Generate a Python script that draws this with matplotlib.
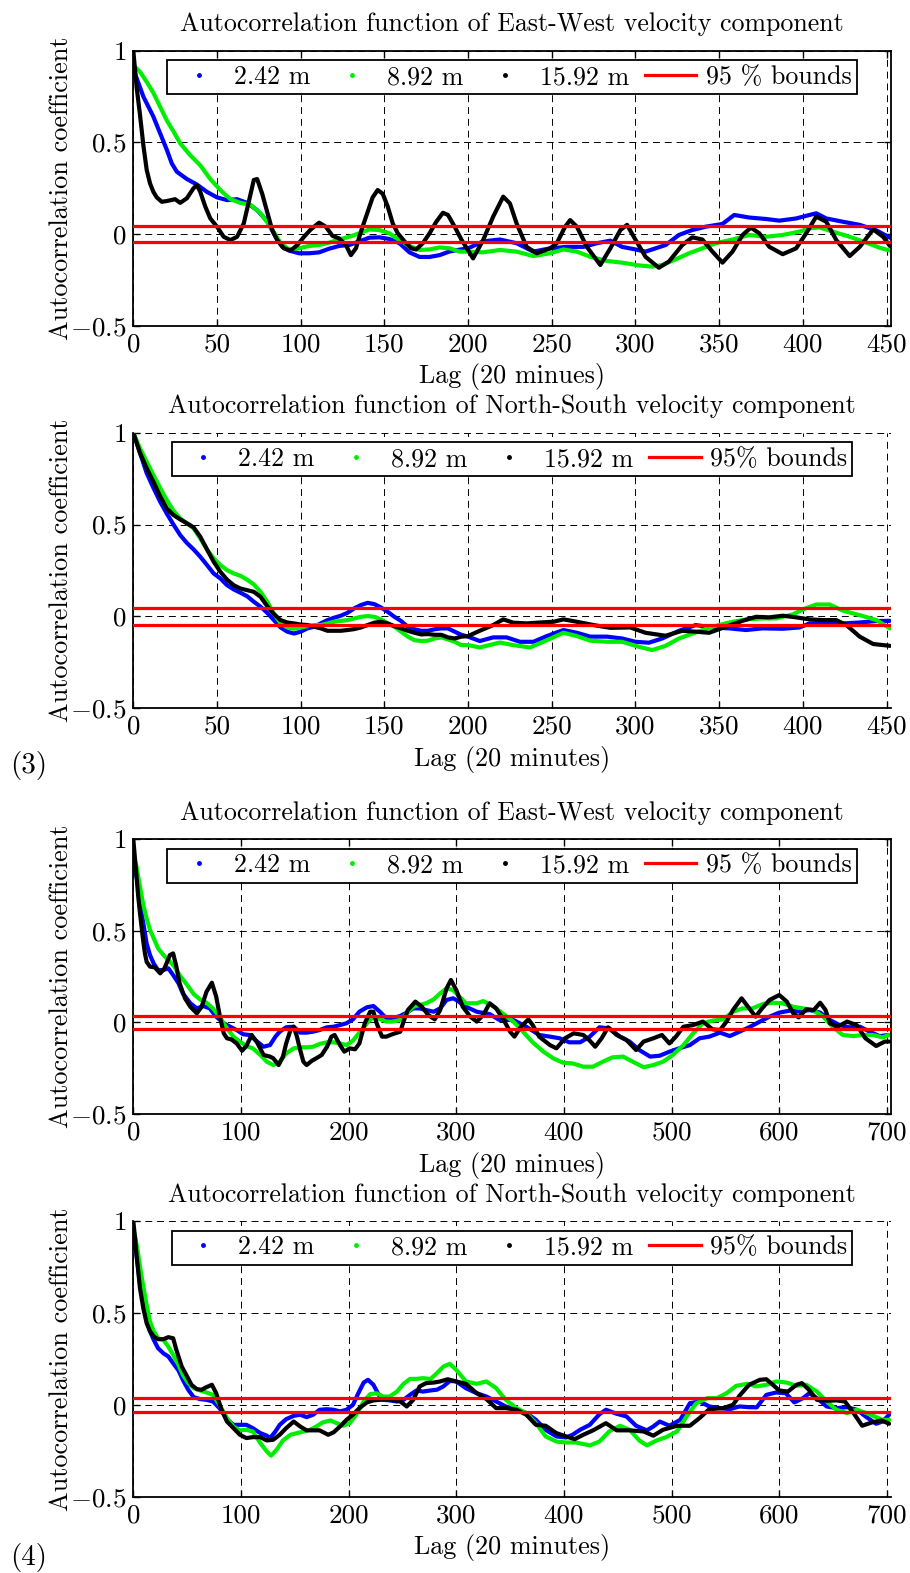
import matplotlib
matplotlib.use('Agg')
import matplotlib.pyplot as plt
from matplotlib.lines import Line2D

plt.rcParams['font.family'] = ['cmr10', 'DejaVu Serif']
plt.rcParams['mathtext.fontset'] = 'cm'
plt.rcParams['axes.formatter.use_mathtext'] = True
plt.rcParams['lines.scale_dashes'] = False

# ---------------- data (lag, autocorrelation) ----------------
depth_labels = ['2.42 m', '8.92 m', '15.92 m']
series_colors = ['#0000ff', '#00ee00', '#000000']

titles = ['Autocorrelation function of East-West velocity component',
          'Autocorrelation function of North-South velocity component',
          'Autocorrelation function of East-West velocity component',
          'Autocorrelation function of North-South velocity component']
xlabels = ['Lag (20 minues)', 'Lag (20 minutes)', 'Lag (20 minues)', 'Lag (20 minutes)']
bound_labels = ['95 % bounds', '95% bounds', '95 % bounds', '95% bounds']
bounds = [0.045, 0.047, 0.036, 0.037]
lag_max = [452.5, 452.5, 703.5, 703.5]
xtick_sets = [list(range(0, 451, 50)), list(range(0, 451, 50)),
              list(range(0, 701, 100)), list(range(0, 701, 100))]
ytick_values = [-0.5, 0, 0.5, 1]
ytick_labels = [r'$-0.5$', r'$0$', r'$0.5$', r'$1$']
panel_tags = ['', '(3)', '', '(4)']
boxed = [True, False, True, False]

p1_blue = [(0,.90),(6,.75),(12,.64),(16,.55),(20,.46),(23,.385),(26,.34),(32,.30),(38,.27),(44,.23),(50,.20),(56,.185),(62,.19),(68,.17),(74,.13),(80,.07),(85,-.015),(89,-.07),(93,-.09),(99,-.105),(105,-.105),(111,-.10),(117,-.08),(123,-.065),(129,-.06),(135,-.04),(141,-.02),(147,-.018),(153,-.027),(159,-.05),(165,-.10),(171,-.125),(177,-.125),(183,-.115),(189,-.095),(195,-.085),(200,-.078),(209,-.04),(219,-.03),(229,-.05),(239,-.096),(249,-.078),(259,-.07),(269,-.07),(277,-.05),(285,-.036),(292,-.07),(300,-.084),(306,-.096),(312,-.078),(318,-.06),(326,-.005),(334,.022),(342,.04),(352,.055),(359,.104),(368,.09),(378,.082),(386,.073),(396,.085),(404,.104),(408,.113),(414,.085),(424,.067),(434,.05),(444,.02),(452,-.02)]
p1_green = [(0,.92),(4,.885),(8,.83),(12,.77),(16,.695),(20,.62),(24,.56),(28,.495),(34,.43),(40,.375),(46,.30),(52,.24),(58,.19),(64,.17),(70,.16),(76,.113),(82,.04),(88,-.05),(93,-.084),(99,-.078),(105,-.065),(111,-.06),(117,-.047),(123,-.03),(129,-.015),(135,.004),(141,.025),(147,.022),(153,.004),(159,-.033),(165,-.065),(171,-.087),(177,-.084),(183,-.073),(189,-.078),(195,-.096),(200,-.096),(209,-.10),(219,-.087),(229,-.096),(239,-.12),(249,-.105),(257,-.084),(265,-.096),(273,-.124),(283,-.147),(292,-.156),(302,-.171),(310,-.178),(316,-.169),(324,-.138),(332,-.105),(340,-.078),(348,-.05),(358,-.03),(368,-.005),(378,-.015),(388,-.005),(398,.013),(404,.031),(410,.036),(418,.013),(428,-.015),(438,-.047),(446,-.075),(452,-.09)]
p1_black = [(0,1.0),(2,.80),(4,.65),(6,.485),(8,.35),(10,.276),(12,.23),(14,.20),(17,.176),(20,.18),(25,.19),(28,.17),(32,.195),(36,.25),(38,.267),(40,.23),(43,.15),(46,.085),(50,.04),(54,-.015),(58,-.033),(62,-.015),(66,.058),(69,.176),(72,.295),(74,.30),(77,.22),(80,.12),(83,.022),(86,-.033),(90,-.078),(94,-.09),(98,-.06),(102,-.015),(106,.025),(111,.062),(115,.04),(119,-.01),(123,-.024),(127,-.06),(130,-.115),(133,-.078),(136,.013),(140,.12),(143,.20),(146,.24),(149,.22),(152,.15),(155,.058),(158,.004),(162,-.04),(166,-.078),(169,-.084),(173,-.05),(177,.004),(181,.067),(185,.116),(188,.104),(192,.04),(196,-.03),(203,-.133),(209,-.033),(215,.095),(221,.204),(225,.167),(229,.058),(235,-.07),(241,-.105),(249,-.078),(253,-.05),(258,.04),(261,.076),(265,.04),(271,-.07),(279,-.169),(285,-.078),(291,.022),(295,.05),(299,-.015),(306,-.124),(314,-.184),(320,-.15),(328,-.06),(334,-.018),(340,-.03),(346,-.096),(352,-.156),(358,-.096),(364,-.005),(369,.035),(374,.004),(380,-.07),(388,-.11),(396,-.078),(402,.004),(408,.095),(414,.067),(420,-.033),(428,-.12),(434,-.07),(442,.025),(448,-.015),(452,-.065)]

p2_blue = [(0,1.0),(4,.89),(8,.78),(12,.70),(16,.625),(20,.56),(24,.50),(28,.443),(32,.40),(36,.365),(40,.325),(44,.28),(48,.234),(52,.207),(56,.17),(60,.147),(64,.129),(68,.11),(72,.08),(76,.053),(80,.02),(84,-.02),(88,-.06),(92,-.083),(96,-.093),(100,-.083),(104,-.065),(108,-.056),(112,-.038),(116,-.02),(120,-.007),(124,.004),(128,.02),(132,.044),(136,.062),(140,.074),(144,.067),(148,.049),(152,.025),(156,-.002),(160,-.025),(164,-.056),(168,-.07),(172,-.078),(176,-.078),(180,-.07),(184,-.065),(188,-.065),(192,-.083),(196,-.10),(200,-.11),(207,-.134),(215,-.114),(223,-.114),(231,-.138),(239,-.138),(247,-.107),(257,-.074),(265,-.089),(273,-.11),(283,-.11),(292,-.12),(300,-.138),(308,-.143),(316,-.12),(326,-.078),(336,-.047),(346,-.06),(356,-.065),(366,-.074),(376,-.065),(388,-.067),(398,-.06),(404,-.038),(414,-.038),(424,-.038),(434,-.033),(444,-.025),(452,-.024)]
p2_green = [(0,1.0),(4,.915),(8,.842),(12,.77),(16,.70),(20,.634),(24,.576),(28,.534),(32,.507),(36,.48),(40,.425),(44,.365),(48,.316),(52,.28),(56,.252),(60,.234),(64,.221),(68,.20),(72,.174),(76,.134),(80,.08),(84,.016),(88,-.038),(92,-.06),(96,-.067),(100,-.06),(104,-.053),(108,-.047),(112,-.047),(116,-.038),(120,-.029),(124,-.024),(128,-.02),(132,-.011),(136,-.002),(140,.002),(144,-.002),(148,-.016),(152,-.038),(156,-.056),(160,-.083),(164,-.11),(168,-.129),(172,-.134),(176,-.132),(180,-.12),(184,-.114),(188,-.125),(192,-.138),(196,-.156),(200,-.156),(207,-.169),(219,-.142),(227,-.156),(237,-.169),(245,-.138),(257,-.089),(265,-.107),(273,-.132),(283,-.138),(292,-.138),(302,-.165),(310,-.183),(318,-.16),(326,-.12),(336,-.087),(346,-.056),(356,-.033),(366,-.016),(376,-.011),(384,-.011),(394,.011),(400,.038),(408,.065),(416,.065),(424,.031),(434,.007),(444,-.02),(452,-.065)]
p2_black = [(0,1.0),(4,.89),(8,.806),(12,.733),(16,.655),(20,.588),(24,.552),(28,.528),(32,.507),(36,.485),(40,.434),(44,.365),(48,.298),(52,.243),(56,.20),(60,.17),(64,.152),(68,.143),(72,.134),(76,.107),(80,.056),(84,.013),(88,-.02),(92,-.033),(96,-.038),(100,-.044),(104,-.047),(108,-.056),(112,-.065),(116,-.078),(120,-.078),(124,-.078),(128,-.074),(132,-.069),(136,-.06),(140,-.047),(144,-.034),(148,-.029),(152,-.038),(156,-.053),(160,-.065),(164,-.078),(168,-.089),(172,-.098),(176,-.096),(180,-.10),(184,-.10),(188,-.114),(192,-.12),(196,-.11),(200,-.107),(207,-.078),(215,-.047),(221,-.016),(227,-.034),(235,-.038),(243,-.033),(251,-.029),(257,-.016),(265,-.029),(275,-.047),(285,-.062),(297,-.06),(306,-.089),(318,-.105),(328,-.078),(336,-.083),(344,-.089),(354,-.056),(364,-.024),(372,-.002),(380,-.005),(388,.004),(396,-.005),(404,-.016),(412,-.02),(420,-.02),(426,-.047),(434,-.11),(442,-.15),(452,-.16)]

p3_blue = [(1,.86),(3,.795),(4.6,.74),(6.2,.667),(7.7,.595),(9.3,.54),(12.4,.43),(15.5,.367),(19,.32),(23,.285),(28,.285),(32.5,.295),(37,.258),(42,.213),(46,.158),(53,.104),(59,.076),(65,.089),(71,.076),(77,.031),(84,-.005),(90,-.024),(96,-.042),(102,-.065),(108,-.069),(115,-.105),(121,-.133),(127,-.124),(132,-.078),(136,-.051),(142,-.027),(149,-.024),(155,-.056),(161,-.056),(167,-.051),(173,-.042),(180,-.027),(186,-.024),(192,-.015),(198,-.005),(204,.016),(210,.058),(217,.082),(223,.089),(229,.058),(235,.022),(241,.022),(248,.035),(254,.053),(260,.076),(266,.076),(272,.067),(279,.058),(285,.076),(291,.122),(297,.131),(300,.122),(309,.085),(319,.058),(331,.045),(340,.013),(353,.013),(365,-.024),(377,-.069),(387,-.078),(396,-.087),(405,-.109),(415,-.109),(424,-.078),(433,-.027),(442,-.033),(452,-.078),(461,-.105),(470,-.151),(480,-.187),(489,-.182),(498,-.16),(507,-.142),(517,-.124),(526,-.087),(535,-.078),(545,-.056),(554,-.075),(563,-.051),(572,-.027),(582,.004),(591,.031),(600,.053),(610,.064),(619,.058),(628,.067),(638,.053),(647,.013),(656,-.015),(665,-.027),(675,-.024),(684,-.051),(693,-.075),(702,-.069)]
p3_green = [(0,.916),(3,.85),(6.2,.74),(9.3,.64),(12.4,.567),(15.5,.504),(19,.458),(23,.404),(28,.367),(32.5,.34),(37,.313),(43,.258),(50,.204),(56,.155),(62,.125),(68,.107),(74,.076),(80,.031),(87,-.033),(93,-.078),(99,-.105),(105,-.129),(111,-.142),(118,-.178),(124,-.215),(130,-.233),(136,-.215),(142,-.169),(149,-.142),(155,-.136),(161,-.136),(167,-.133),(173,-.118),(180,-.109),(186,-.109),(192,-.115),(198,-.124),(204,-.10),(210,-.056),(217,-.005),(223,.031),(229,.018),(235,.004),(241,.004),(248,.013),(254,.049),(260,.085),(266,.095),(272,.104),(279,.125),(285,.158),(291,.185),(297,.176),(300,.158),(309,.104),(319,.104),(325,.116),(334,.089),(343,.049),(353,.004),(362,-.051),(371,-.109),(381,-.16),(390,-.196),(399,-.22),(408,-.224),(418,-.242),(427,-.242),(436,-.215),(445,-.191),(455,-.187),(464,-.215),(474,-.245),(483,-.233),(492,-.215),(501,-.178),(511,-.124),(520,-.06),(529,-.005),(538,.009),(548,.016),(557,.058),(566,.076),(575,.076),(585,.10),(594,.107),(603,.104),(613,.085),(622,.076),(631,.067),(641,.031),(650,-.027),(659,-.069),(669,-.075),(678,-.069),(687,-.069),(696,-.082),(702,-.069)]
p3_black = [(0,1.0),(1.5,.895),(3,.785),(4.6,.685),(6.2,.595),(7.7,.52),(9.3,.44),(10.8,.376),(12.4,.33),(15.5,.304),(20,.30),(25,.267),(29,.295),(34,.367),(37,.376),(40,.304),(43,.213),(48,.131),(53,.085),(59,.049),(63.5,.085),(68,.167),(73,.216),(77,.14),(80.5,.031),(84,-.06),(87,-.087),(91,-.093),(96,-.115),(101,-.155),(105,-.129),(110,-.069),(115,-.11),(121,-.178),(127,-.187),(130,-.196),(135,-.233),(139,-.187),(142,-.115),(146,-.042),(149,-.024),(152,-.078),(155,-.151),(158,-.215),(161,-.233),(166,-.209),(170,-.196),(175,-.178),(180,-.133),(184,-.078),(187,-.069),(192,-.124),(196,-.16),(201,-.142),(206,-.147),(210,-.115),(215,-.005),(220,.058),(223,.058),(226,-.005),(231,-.078),(235,-.078),(241,-.064),(248,-.051),(251,.004),(255,.067),(262,.113),(268,.085),(274,.04),(280,.016),(285,.067),(291,.185),(295,.231),(300,.176),(306,.085),(313,.031),(319,.004),(325,.04),(331,.104),(337,.076),(344,.013),(350,-.051),(354,-.078),(360,-.024),(367,.016),(371,-.015),(377,-.078),(387,-.124),(393,-.142),(401,-.087),(409,-.06),(418,-.069),(424,-.10),(429,-.133),(435,-.087),(441,-.027),(449,-.069),(458,-.096),(467,-.151),(474,-.105),(483,-.087),(491,-.069),(498,-.115),(504,-.078),(511,-.024),(520,-.015),(529,.004),(538,-.038),(545,-.042),(551,.004),(557,.067),(565,.131),(571,.085),(578,.031),(584,.076),(591,.122),(600,.149),(607,.113),(613,.049),(618,.027),(625,.071),(632,.067),(638,.107),(643,.067),(647,-.005),(654,-.024),(663,.004),(672,-.015),(680,-.087),(690,-.129),(698,-.105),(702,-.105)]

p4_blue = [(0,.915),(2,.86),(4,.77),(6.2,.66),(9.3,.553),(12.4,.462),(15.5,.40),(19,.353),(23,.308),(28,.28),(32.5,.263),(37,.226),(42,.187),(46,.136),(51,.082),(56,.042),(62,.031),(68,.027),(74,.018),(80,-.018),(87,-.078),(93,-.109),(99,-.109),(105,-.109),(111,-.127),(118,-.154),(124,-.168),(127,-.181),(132,-.145),(136,-.109),(142,-.078),(149,-.06),(155,-.054),(161,-.067),(167,-.054),(173,-.027),(180,-.024),(186,-.027),(192,-.036),(198,-.027),(204,0.0),(209,.063),(214,.121),(218,.136),(223,.109),(228,.054),(232,.027),(238,.024),(245,.018),(251,.027),(257,.054),(263,.078),(269,.072),(276,.078),(282,.082),(288,.10),(294,.13),(300,.127),(309,.09),(319,.063),(328,.045),(337,.018),(346,-.009),(356,-.027),(365,-.045),(374,-.082),(383,-.136),(393,-.172),(402,-.178),(408,-.163),(415,-.136),(424,-.109),(433,-.051),(439,-.027),(449,-.049),(458,-.063),(467,-.114),(477,-.139),(483,-.118),(489,-.091),(498,-.114),(508,-.082),(517,.009),(526,.018),(535,-.009),(545,-.018),(554,-.024),(563,-.009),(572,-.013),(579,-.014),(588,.054),(597,.067),(606,.063),(614,.013),(622,.036),(628,.063),(635,.036),(644,-.009),(653,-.018),(663,-.013),(672,-.027),(681,-.067),(690,-.103),(696,-.091),(702,-.054)]
p4_green = [(0,.955),(2,.906),(4,.842),(6.2,.752),(9.3,.643),(12.4,.543),(15.5,.453),(19,.40),(23,.362),(28,.353),(32.5,.317),(37,.272),(42,.217),(46,.163),(51,.118),(56,.091),(62,.078),(68,.067),(74,.054),(80,0.0),(87,-.072),(93,-.118),(99,-.139),(105,-.136),(111,-.145),(118,-.208),(124,-.254),(128,-.277),(133,-.245),(139,-.194),(146,-.163),(152,-.154),(158,-.145),(164,-.136),(170,-.118),(176,-.096),(183,-.085),(189,-.10),(195,-.114),(201,-.10),(207,-.054),(214,.018),(220,.058),(226,.063),(232,.045),(238,.045),(245,.072),(251,.114),(257,.141),(263,.141),(269,.145),(276,.14),(282,.172),(288,.208),(294,.223),(300,.19),(309,.127),(319,.114),(328,.127),(337,.091),(346,.027),(356,-.018),(365,-.045),(374,-.10),(383,-.172),(393,-.20),(402,-.205),(411,-.205),(424,-.221),(433,-.20),(442,-.145),(452,-.114),(461,-.136),(470,-.194),(477,-.221),(486,-.194),(495,-.176),(505,-.145),(514,-.063),(523,.009),(533,.036),(542,.036),(551,.063),(560,.103),(570,.114),(579,.10),(588,.109),(597,.127),(607,.121),(616,.103),(625,.109),(635,.072),(644,.018),(653,-.027),(663,-.045),(672,-.027),(681,-.045),(690,-.067),(696,-.082),(702,-.082)]
p4_black = [(0,1.0),(1.5,.915),(3,.815),(4.6,.725),(6.2,.634),(9.3,.525),(12.4,.444),(15.5,.40),(19,.371),(23,.357),(28,.357),(32.5,.368),(37,.362),(40,.299),(45,.208),(50,.154),(54,.109),(59,.085),(63.5,.082),(68,.096),(73,.109),(77,.063),(82,-.027),(87,-.091),(93,-.127),(99,-.163),(105,-.181),(111,-.176),(118,-.176),(124,-.194),(130,-.19),(136,-.163),(142,-.127),(149,-.091),(155,-.118),(161,-.139),(167,-.139),(173,-.139),(181,-.163),(186,-.15),(192,-.118),(198,-.082),(204,-.054),(210,-.018),(217,.013),(223,.024),(229,.027),(235,.031),(241,.027),(248,.018),(254,-.009),(260,.027),(266,.10),(272,.118),(279,.121),(285,.127),(292,.139),(300,.127),(309,.114),(319,.063),(328,.031),(337,-.018),(346,-.018),(356,-.027),(365,-.054),(374,-.109),(383,-.114),(393,-.154),(402,-.172),(410,-.187),(418,-.163),(427,-.139),(439,-.10),(449,-.139),(461,-.139),(474,-.145),(483,-.168),(492,-.136),(505,-.114),(517,-.114),(526,-.072),(535,-.024),(548,-.018),(557,0.0),(563,.049),(572,.109),(582,.136),(588,.139),(594,.109),(600,.078),(608,.072),(616,.109),(621,.118),(627,.085),(635,.027),(644,.022),(653,.024),(661,.018),(669,-.045),(677,-.114),(686,-.096),(695,-.085),(702,-.103)]

panels_data = [[p1_blue, p1_green, p1_black],
               [p2_blue, p2_green, p2_black],
               [p3_blue, p3_green, p3_black],
               [p4_blue, p4_green, p4_black]]

# ---------------- layout (pixels) ----------------
W, H = 910, 1573
axes_px = [(133.3, 50.7, 890.7, 325.7),
           (133.3, 432.7, 890.7, 708.3),
           (133.3, 839.0, 890.7, 1114.0),
           (133.3, 1221.0, 890.7, 1496.7)]
tag_px = [None, (29, 766), None, (29, 1557)]

fig = plt.figure(figsize=(W / 100, H / 100), dpi=100)

for i in range(4):
    l, t, r, b = axes_px[i]
    ax = fig.add_axes([l / W, 1 - b / H, (r - l) / W, (b - t) / H])
    for series, col in zip(panels_data[i], series_colors):
        lags = [p[0] for p in series]
        vals = [p[1] for p in series]
        ax.plot(lags, vals, color=col, lw=3.0, solid_joinstyle='round',
                solid_capstyle='round', zorder=2)
    ax.axhline(bounds[i], color='#ff0000', lw=2.3, zorder=3)
    ax.axhline(-bounds[i], color='#ff0000', lw=2.3, zorder=3)

    ax.set_xlim(0, lag_max[i])
    ax.set_ylim(-0.5, 1)
    ax.set_xticks(xtick_sets[i])
    ax.set_xticklabels([str(v) for v in xtick_sets[i]])
    ax.set_yticks(ytick_values)
    ax.set_yticklabels(ytick_labels)
    ax.grid(True, color='k', linestyle=(0, (5.0, 3.5)), linewidth=0.7)
    ax.tick_params(direction='in', length=5, width=1.0, top=boxed[i], right=boxed[i],
                   labelsize=19.5, pad=5, colors='k')
    for name, sp in ax.spines.items():
        sp.set_linewidth(1.3)
        sp.set_color('k')
        if name in ('top', 'right') and not boxed[i]:
            sp.set_visible(False)

    ax.set_title(titles[i], fontsize=18.6, pad=14)
    ax.set_xlabel(xlabels[i], fontsize=18.8, labelpad=5)
    ax.set_ylabel('Autocorrelation coefficient', fontsize=18.9)
    ax.yaxis.set_label_coords(-0.079, 0.5)

    handles = [Line2D([], [], marker='.', linestyle='none', color=c, markersize=5)
               for c in series_colors]
    handles.append(Line2D([], [], color='#ff0000', lw=2.3))
    leg = ax.legend(handles, depth_labels + [bound_labels[i]], loc='upper center',
                    bbox_to_anchor=(0.5, 1 - 9.5 / (b - t)), ncol=4, frameon=True,
                    fancybox=False, edgecolor='k', framealpha=1, fontsize=18.7,
                    handlelength=2.0, handletextpad=0.35, columnspacing=0.6,
                    borderpad=0.2, borderaxespad=0)
    leg.get_frame().set_linewidth(1.3)

    if tag_px[i] is not None:
        fig.text(tag_px[i][0] / W, 1 - tag_px[i][1] / H, panel_tags[i],
                 ha='center', va='center', fontsize=21)

fig.savefig('out.png', dpi=100)
